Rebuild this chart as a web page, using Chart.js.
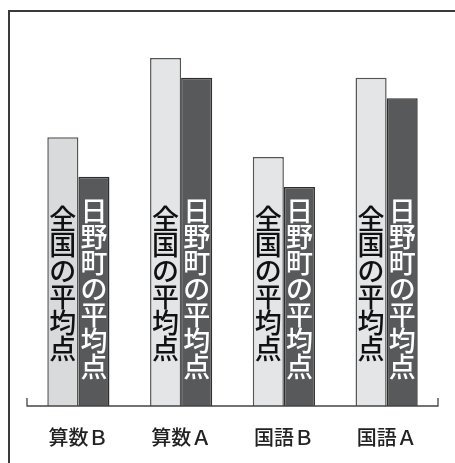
<!DOCTYPE html>
<html>
<head>
<meta charset="utf-8">
<script src="https://cdn.jsdelivr.net/npm/chart.js@4"></script>
<style>
  html, body { margin: 0; padding: 0; background: #fff; }
  #wrap { position: relative; width: 455px; height: 463px; }
</style>
</head>
<body>
<div id="wrap"><canvas id="scoreChart"></canvas></div>
<script>
// 全国 vs 日野町 average scores
const categories = ['算数Ｂ', '算数Ａ', '国語Ｂ', '国語Ａ'];
const nationalScores = [44.8, 58.0, 41.5, 54.7];
const hinoScores = [38.2, 54.7, 36.5, 51.3];
const nationalLabel = '全国の平均点';
const hinoLabel = '日野町の平均点';

const FONT = '"Noto Sans CJK JP", "Noto Sans CJK SC", sans-serif';

// frame, baseline and vertical in-bar text
const decorations = {
    id: 'decorations',
    beforeDraw(chart) {
        const ctx = chart.ctx;
        ctx.save();
        ctx.strokeStyle = '#3a3a3a';
        ctx.lineWidth = 2;
        ctx.beginPath();
        ctx.moveTo(9, chart.height);
        ctx.lineTo(9, 11);
        ctx.lineTo(chart.width, 11);
        ctx.stroke();
        ctx.restore();
    },
    afterDatasetsDraw(chart) {
        const ctx = chart.ctx;
        const area = chart.chartArea;
        const base = chart.scales.y.getPixelForValue(0);

        ctx.save();
        ctx.strokeStyle = '#444';
        ctx.lineWidth = 1.3;
        ctx.beginPath();
        ctx.moveTo(area.left, base - 8);
        ctx.lineTo(area.left, base);
        ctx.lineTo(area.right, base);
        ctx.lineTo(area.right, base - 8);
        ctx.stroke();

        ctx.font = '500 27px ' + FONT;
        ctx.textAlign = 'center';
        ctx.textBaseline = 'middle';
        chart.data.datasets.forEach((ds, di) => {
            const meta = chart.getDatasetMeta(di);
            const chars = Array.from(ds.label);
            const lift = di === 0 ? 44 : 26;
            ctx.fillStyle = di === 0 ? '#111' : '#fff';
            meta.data.forEach(bar => {
                chars.forEach((ch, k) => {
                    const y = bar.base - lift - 13 - (chars.length - 1 - k) * 26;
                    ctx.fillText(ch, bar.x, y);
                });
            });
        });
        ctx.restore();
    }
};

new Chart(document.getElementById('scoreChart').getContext('2d'), {
    type: 'bar',
    data: {
        labels: categories,
        datasets: [{
            label: nationalLabel,
            data: nationalScores,
            backgroundColor: ['#d9dadb', '#e4e5e6', '#e4e5e6', '#e4e5e6'],
            borderColor: '#555',
            borderWidth: 1.5,
            borderSkipped: 'bottom'
        }, {
            label: hinoLabel,
            data: hinoScores,
            backgroundColor: '#58595b',
            borderColor: '#2e2e2e',
            borderWidth: 1.5,
            borderSkipped: 'bottom'
        }]
    },
    options: {
        responsive: true,
        maintainAspectRatio: false,
        animation: false,
        layout: {
            padding: { left: 27, right: 17, top: 16, bottom: 0 }
        },
        datasets: {
            bar: {
                barPercentage: 1.0,
                categoryPercentage: 0.605
            }
        },
        plugins: {
            legend: { display: false },
            tooltip: { enabled: false }
        },
        scales: {
            x: {
                grid: { display: false, drawTicks: false },
                border: { display: false },
                ticks: {
                    color: '#222',
                    padding: 19,
                    font: { family: FONT, size: 20, weight: '500' }
                },
                afterFit(scale) {
                    scale.height = 57;
                }
            },
            y: {
                display: false,
                min: 0,
                max: 65
            }
        }
    },
    plugins: [decorations]
});
</script>
</body>
</html>
